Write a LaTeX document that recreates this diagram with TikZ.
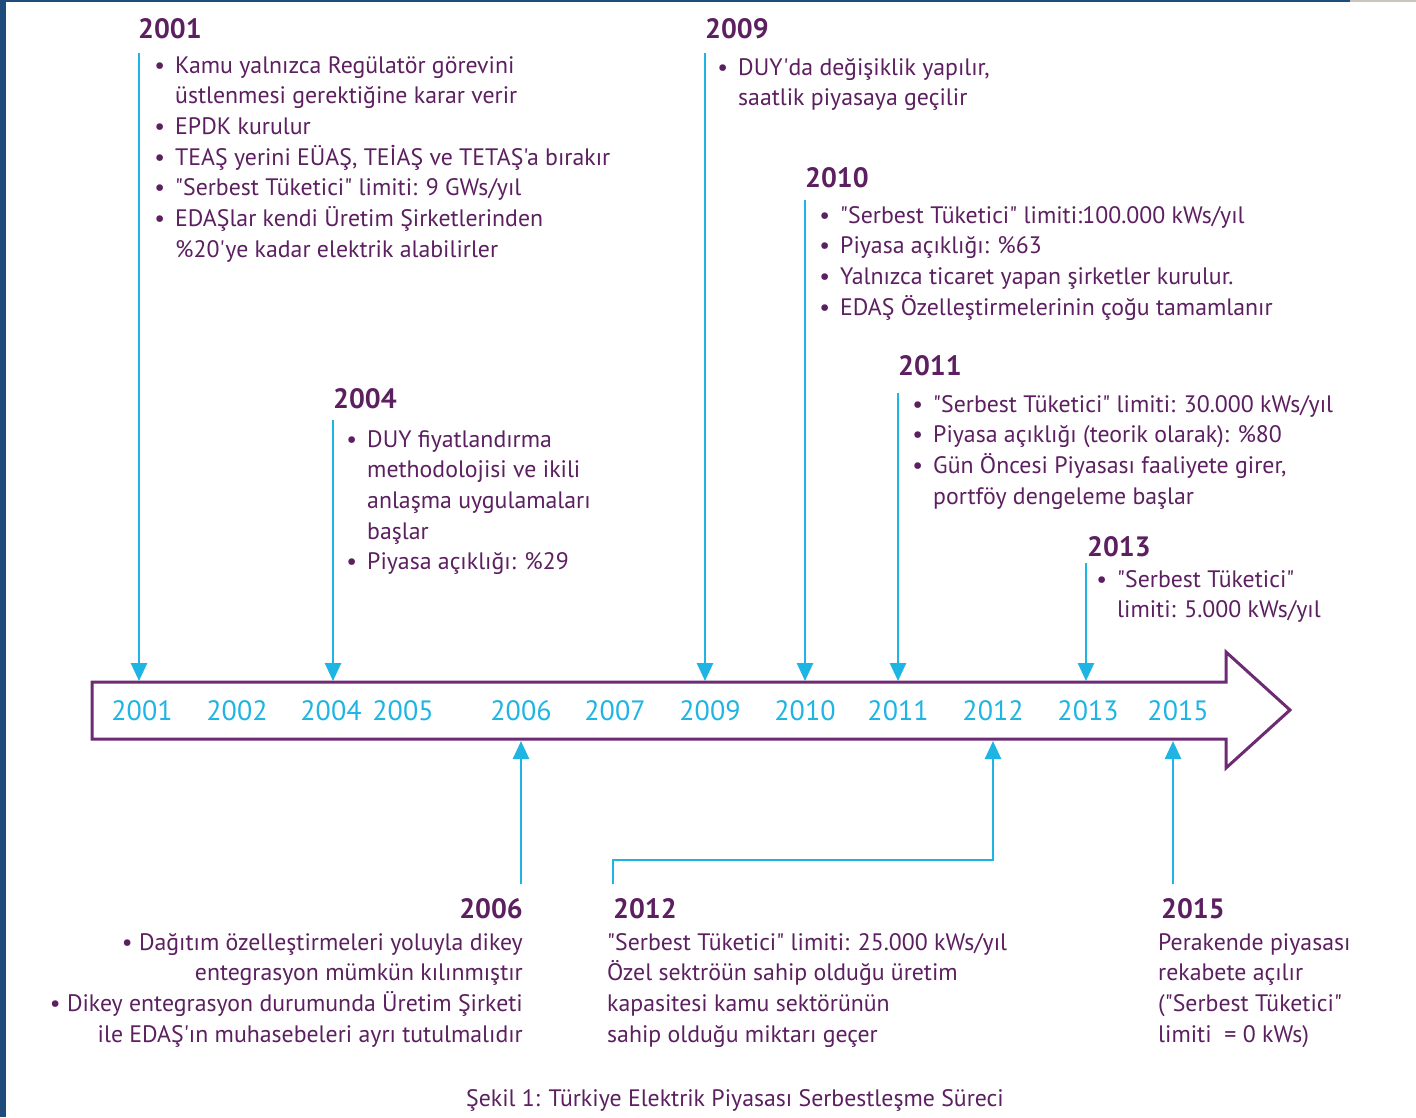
\documentclass[tikz,border=0pt]{standalone}
\usepackage{fontspec}
\setmainfont{PT Sans}[Ligatures=TeXOff]
\usetikzlibrary{arrows.meta}
\definecolor{tp}{HTML}{5C1F60}
\definecolor{tc}{HTML}{1EB4E3}
\definecolor{ta}{HTML}{6E2A72}
\definecolor{fb}{HTML}{1F4A7C}
\definecolor{fg}{HTML}{C9C5BE}
\newcommand{\bul}{\llap{•\hspace{10pt}}}
\newcommand{\lblk}[1]{\begin{tabular}[t]{@{}l@{}}#1\end{tabular}}
\newcommand{\rblk}[1]{\begin{tabular}[t]{@{}r@{}}#1\end{tabular}}
\begin{document}
\begin{tikzpicture}[x=1pt,y=-1pt,
  body/.style={font=\fontsize{23.8}{30.7}\selectfont, text=tp, inner sep=0pt, anchor=base west},
  rbody/.style={body, anchor=base east},
  yr/.style={font=\bfseries\fontsize{28}{30}\selectfont, text=tp, inner sep=0pt, anchor=base west},
  ax/.style={font=\fontsize{28}{30}\selectfont, text=tc, inner sep=0pt, anchor=base},
  cy/.style={draw=tc, line width=2.6pt, -{Triangle[length=18pt,width=16pt]}},
  cyl/.style={draw=tc, line width=2.6pt}]
\useasboundingbox (0,0) rectangle (1416,1117);
\fill[white] (0,0) rectangle (1416,1117);
% frame
\fill[fb] (0,0) rectangle (6,1117);
\fill[fb] (0,0) rectangle (1350,2);
\fill[fg] (1350,0) rectangle (1416,2);
% big arrow
\draw[ta, line width=3pt, line join=miter] (92,682) -- (1226,682) -- (1226,652) -- (1290,710) -- (1226,768) -- (1226,739) -- (92,739) -- cycle;
% axis years
\foreach \lab/\xx in {2001/142,2002/237,2004/331,2005/403,2006/521,2007/615,2009/710,2010/805,2011/898,2012/993,2013/1088,2015/1178}
  \node[ax] (a\lab) at (\xx,720) {\lab};
% connector end points
\coordinate (s2001) at (139,53);   \coordinate (e2001) at (139,681);
\coordinate (s2004) at (333,420);  \coordinate (e2004) at (333,681);
\coordinate (s2009) at (705,53);   \coordinate (e2009) at (705,681);
\coordinate (s2010) at (805,200);  \coordinate (e2010) at (805,681);
\coordinate (s2011) at (898,393);  \coordinate (e2011) at (898,681);
\coordinate (s2013) at (1086,563); \coordinate (e2013) at (1086,681);
\coordinate (s2006) at (521,884);  \coordinate (e2006) at (521,741);
\coordinate (s2012) at (613,884);  \coordinate (m2012) at (993,860); \coordinate (e2012) at (993,741);
\coordinate (s2015) at (1173,884); \coordinate (e2015) at (1173,741);
\draw[cy] (s2001) -- (e2001);
\draw[cy] (s2004) -- (e2004);
\draw[cy] (s2009) -- (e2009);
\draw[cy] (s2010) -- (e2010);
\draw[cy] (s2011) -- (e2011);
\draw[cy] (s2013) -- (e2013);
\draw[cy] (s2006) -- (e2006);
\draw[cy, line join=miter] (s2012) |- (m2012) -- (e2012);
\draw[cy] (s2015) -- (e2015);
% headings
\node[yr] (h2001) at (138,38) {2001};
\node[yr] (h2004) at (333,408) {2004};
\node[yr] (h2009) at (705,38) {2009};
\node[yr] (h2010) at (805,187) {2010};
\node[yr] (h2011) at (898,375) {2011};
\node[yr] (h2013) at (1087,556) {2013};
\node[yr, anchor=base east] (h2006) at (523,918) {2006};
\node[yr] (h2012) at (613,918) {2012};
\node[yr] (h2015) at (1161,918) {2015};
% texts
\node[body] (t2001) at (175,73) {\lblk{\bul Kamu yalnızca Regülatör görevini\\üstlenmesi gerektiğine karar verir\\\bul EPDK kurulur\\\bul TEAŞ yerini EÜAŞ, TEİAŞ ve TETAŞ'a bırakır\\\bul "Serbest Tüketici" limiti: 9 GWs/yıl\\\bul EDAŞlar kendi Üretim Şirketlerinden\\\%20'ye kadar elektrik alabilirler}};
\node[body] (t2004) at (367,447) {\lblk{\bul DUY fiyatlandırma\\methodolojisi ve ikili\\anlaşma uygulamaları\\başlar\\\bul Piyasa açıklığı: \%29}};
\node[body] (t2009) at (738,75) {\lblk{\bul DUY'da değişiklik yapılır,\\saatlik piyasaya geçilir}};
\node[body] (t2010) at (840,223) {\lblk{\bul "Serbest Tüketici" limiti:100.000 kWs/yıl\\\bul Piyasa açıklığı: \%63\\\bul Yalnızca ticaret yapan şirketler kurulur.\\\bul EDAŞ Özelleştirmelerinin çoğu tamamlanır}};
\node[body] (t2011) at (933,412) {\lblk{\bul "Serbest Tüketici" limiti: 30.000 kWs/yıl\\\bul Piyasa açıklığı (teorik olarak): \%80\\\bul Gün Öncesi Piyasası faaliyete girer,\\portföy dengeleme başlar}};
\node[body] (t2013) at (1117,587) {\lblk{\bul "Serbest Tüketici"\\limiti: 5.000 kWs/yıl}};
\node[rbody] (t2006) at (523,950) {\rblk{• Dağıtım özelleştirmeleri yoluyla dikey\\entegrasyon mümkün kılınmıştır\\• Dikey entegrasyon durumunda Üretim Şirketi\\ile EDAŞ'ın muhasebeleri ayrı tutulmalıdır}};
\node[body] (t2012) at (607,950) {\lblk{"Serbest Tüketici" limiti: 25.000 kWs/yıl\\Özel sektröün sahip olduğu üretim\\kapasitesi kamu sektörünün\\sahip olduğu miktarı geçer}};
\node[body] (t2015) at (1158,950) {\lblk{Perakende piyasası\\rekabete açılır\\("Serbest Tüketici"\\limiti~~= 0 kWs)}};
\node[body, anchor=base] (cap) at (735,1106) {Şekil 1: Türkiye Elektrik Piyasası Serbestleşme Süreci};
\end{tikzpicture}
\end{document}
